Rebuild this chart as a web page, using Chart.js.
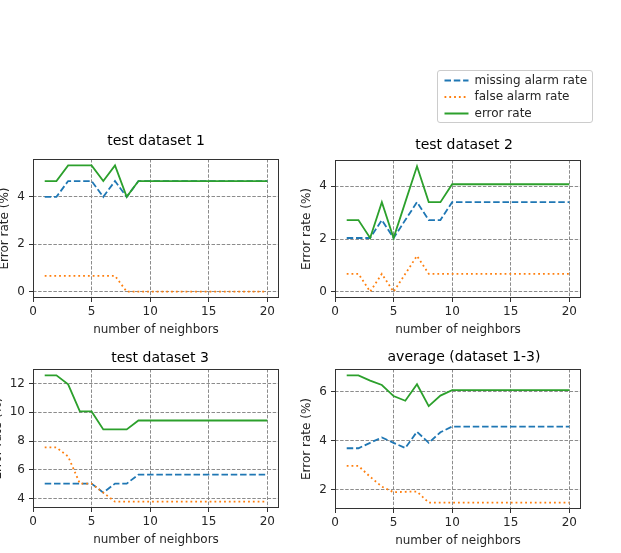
<!DOCTYPE html>
<html>
<head>
<meta charset="utf-8">
<title>error rate vs number of neighbors</title>
<script src="https://cdn.jsdelivr.net/npm/chart.js@4/dist/chart.umd.min.js"></script>
<style>
    html, body { margin: 0; padding: 0; background: #ffffff; }
    body { position: relative; width: 621px; height: 553px; overflow: hidden; }
    canvas { position: absolute; }
    #legend-box {
        position: absolute; left: 437px; top: 70px; width: 154px; height: 51px;
        border: 1px solid #cccccc; border-radius: 3px; background: rgba(255, 255, 255, 0.8);
    }
</style>
</head>
<body>
<div id="legend-box"></div>
<canvas id="plot-1"></canvas>
<canvas id="plot-2"></canvas>
<canvas id="plot-3"></canvas>
<canvas id="plot-4"></canvas>
<canvas id="legend"></canvas>
<script>
// x axis: number of neighbors, same for every panel
const neighbors = [1, 2, 3, 4, 5, 6, 7, 8, 9, 10, 11, 12, 13, 14, 15, 16, 17, 18, 19, 20];
const xTicks = [0, 5, 10, 15, 20];
const seriesNames = ["missing alarm rate", "false alarm rate", "error rate"];

// test dataset 1 (%)
const missing1 = [4.00, 4.00, 4.67, 4.67, 4.67, 4.00, 4.67, 4.00, 4.67, 4.67, 4.67, 4.67, 4.67, 4.67, 4.67, 4.67, 4.67, 4.67, 4.67, 4.67];
const falseAlarm1 = [0.67, 0.67, 0.67, 0.67, 0.67, 0.67, 0.67, 0, 0, 0, 0, 0, 0, 0, 0, 0, 0, 0, 0, 0];
const error1 = [4.67, 4.67, 5.33, 5.33, 5.33, 4.67, 5.33, 4.00, 4.67, 4.67, 4.67, 4.67, 4.67, 4.67, 4.67, 4.67, 4.67, 4.67, 4.67, 4.67];
const yTicks1 = [0, 2, 4];

// test dataset 2 (%)
const missing2 = [2.04, 2.04, 2.04, 2.72, 2.04, 2.72, 3.40, 2.72, 2.72, 3.40, 3.40, 3.40, 3.40, 3.40, 3.40, 3.40, 3.40, 3.40, 3.40, 3.40];
const falseAlarm2 = [0.68, 0.68, 0, 0.68, 0, 0.68, 1.36, 0.68, 0.68, 0.68, 0.68, 0.68, 0.68, 0.68, 0.68, 0.68, 0.68, 0.68, 0.68, 0.68];
const error2 = [2.72, 2.72, 2.04, 3.40, 2.04, 3.40, 4.76, 3.40, 3.40, 4.08, 4.08, 4.08, 4.08, 4.08, 4.08, 4.08, 4.08, 4.08, 4.08, 4.08];
const yTicks2 = [0, 2, 4];

// test dataset 3 (%)
const missing3 = [5.03, 5.03, 5.03, 5.03, 5.03, 4.40, 5.03, 5.03, 5.66, 5.66, 5.66, 5.66, 5.66, 5.66, 5.66, 5.66, 5.66, 5.66, 5.66, 5.66];
const falseAlarm3 = [7.55, 7.55, 6.92, 5.03, 5.03, 4.40, 3.77, 3.77, 3.77, 3.77, 3.77, 3.77, 3.77, 3.77, 3.77, 3.77, 3.77, 3.77, 3.77, 3.77];
const error3 = [12.58, 12.58, 11.95, 10.06, 10.06, 8.81, 8.81, 8.81, 9.43, 9.43, 9.43, 9.43, 9.43, 9.43, 9.43, 9.43, 9.43, 9.43, 9.43, 9.43];
const yTicks3 = [4, 6, 8, 10, 12];

// average over dataset 1-3 (%)
const missing4 = [3.69, 3.69, 3.91, 4.13, 3.91, 3.70, 4.36, 3.91, 4.34, 4.57, 4.57, 4.57, 4.57, 4.57, 4.57, 4.57, 4.57, 4.57, 4.57, 4.57];
const falseAlarm4 = [2.97, 2.97, 2.53, 2.13, 1.90, 1.92, 1.93, 1.48, 1.48, 1.48, 1.48, 1.48, 1.48, 1.48, 1.48, 1.48, 1.48, 1.48, 1.48, 1.48];
const error4 = [6.65, 6.65, 6.44, 6.26, 5.81, 5.62, 6.29, 5.40, 5.83, 6.05, 6.05, 6.05, 6.05, 6.05, 6.05, 6.05, 6.05, 6.05, 6.05, 6.05];
const yTicks4 = [2, 4, 6];

const COLORS = ["#1f77b4", "#ff7f0e", "#2ca02c"];
const DASHES = [[6.5, 2.8], [1.8, 3], []];
const FONT = "'DejaVu Sans', 'Liberation Sans', sans-serif";
const X_AXIS_HEIGHT = 39;   // ticks + tick labels + "number of neighbors"
const TITLE_LINE = 16.8;    // 14px title * 1.2 line height

Chart.defaults.font.family = FONT;
Chart.defaults.color = "#262626";

// draws the four spines round the plot area (chart.js only draws the axis side)
const framePlugin = {
    id: "frame",
    afterDraw(chart) {
        let a = chart.chartArea;
        let ctx = chart.ctx;
        ctx.save();
        ctx.strokeStyle = "#333333";
        ctx.lineWidth = 1;
        ctx.setLineDash([]);
        ctx.strokeRect(Math.round(a.left) + 0.5, Math.round(a.top) + 0.5,
            Math.round(a.right - a.left) - 1, Math.round(a.bottom - a.top) - 1);
        ctx.restore();
    }
};

// nudges the title sideways a little, the source figure is not exactly centred
const titleShiftPlugin = {
    id: "titleShift",
    afterLayout(chart, args, opts) {
        if (chart.titleBlock && opts.shift) {
            chart.titleBlock.left += opts.shift;
            chart.titleBlock.right += opts.shift;
        }
    }
};

function toPoints(values) {
    return neighbors.map((k, i) => ({ x: k, y: values[i] }));
}

function build_datasets(missing, falseAlarm, error) {
    let series = [missing, falseAlarm, error];
    return series.map((vals, i) => ({
        label: seriesNames[i],
        data: toPoints(vals),
        borderColor: COLORS[i],
        backgroundColor: COLORS[i],
        borderWidth: 1.8,
        borderDash: DASHES[i],
        borderCapStyle: "butt",
        pointRadius: 0,
        tension: 0,
        fill: false,
        order: 3 - i // error rate on top, like matplotlib plotting order
    }));
}

/**
 * One subplot on its own canvas.
 * box: l/t/r/b of the plot area in page pixels, yw = width kept for the y axis,
 * ct = top of the canvas (the title sits between ct and t), shift = title nudge
 */
function make_panel(id, title, missing, falseAlarm, error, yTicks, yMin, yMax, box) {
    let cv = document.getElementById(id);
    let left = box.l - box.yw;
    cv.style.left = left + "px";
    cv.style.top = box.ct + "px";
    cv.width = box.r + 6 - left;
    cv.height = box.b + X_AXIS_HEIGHT - box.ct;

    let titlePad = box.t - box.ct - TITLE_LINE;

    return new Chart(cv, {
        type: "line",
        data: { datasets: build_datasets(missing, falseAlarm, error) },
        plugins: [framePlugin, titleShiftPlugin],
        options: {
            responsive: false,
            animation: false,
            devicePixelRatio: 1,
            layout: { padding: { left: 0, right: 6, top: 0, bottom: 0 } },
            scales: {
                x: {
                    type: "linear",
                    min: 0,
                    max: 21,
                    afterBuildTicks: (s) => { s.ticks = xTicks.map(v => ({ value: v })); },
                    afterFit: (s) => { s.height = X_AXIS_HEIGHT; },
                    ticks: { font: { size: 12 }, color: "#262626", padding: 3, maxRotation: 0, autoSkip: false },
                    grid: { color: "#8c8c8c", lineWidth: 1, tickLength: 4, tickColor: "#333333", tickWidth: 1, tickBorderDash: [] },
                    border: { display: false, dash: [3.5, 1.6] },
                    title: { display: true, text: "number of neighbors", font: { size: 12 }, color: "#262626", padding: 0 }
                },
                y: {
                    type: "linear",
                    min: yMin,
                    max: yMax,
                    afterBuildTicks: (s) => { s.ticks = yTicks.map(v => ({ value: v })); },
                    afterFit: (s) => { s.width = box.yw; },
                    ticks: { font: { size: 12 }, color: "#262626", padding: 4, autoSkip: false },
                    grid: { color: "#8c8c8c", lineWidth: 1, tickLength: 4, tickColor: "#333333", tickWidth: 1, tickBorderDash: [] },
                    border: { display: false, dash: [3.5, 1.6] },
                    title: { display: true, text: "Error rate (%)", font: { size: 12 }, color: "#262626", padding: 0 }
                }
            },
            plugins: {
                legend: { display: false },
                tooltip: { enabled: false },
                titleShift: { shift: box.shift },
                title: {
                    display: true,
                    fullSize: false, // centre over the plot area, not the canvas
                    text: title,
                    font: { size: 14, weight: "normal" },
                    color: "#000000",
                    padding: { top: 0, bottom: titlePad }
                }
            }
        }
    });
}

// the shared legend, drawn by chart.js on a small canvas of its own
function make_legend() {
    let cv = document.getElementById("legend");
    cv.style.left = "440px";
    cv.style.top = "70px";
    cv.width = 150;
    cv.height = 150;
    let datasets = build_datasets([], [], []);
    datasets.forEach(d => { delete d.order; });
    return new Chart(cv, {
        type: "line",
        data: { datasets: datasets },
        options: {
            responsive: false,
            animation: false,
            devicePixelRatio: 1,
            layout: { padding: 0 },
            scales: { x: { type: "linear", display: false }, y: { display: false } },
            plugins: {
                tooltip: { enabled: false },
                legend: {
                    display: true,
                    position: "top",
                    align: "start",
                    labels: {
                        font: { size: 12 },
                        color: "#262626",
                        usePointStyle: true,
                        pointStyleWidth: 24,
                        padding: 4.5,
                        // keep the dash pattern of each line in the legend sample
                        generateLabels: (chart) => {
                            let items = Chart.defaults.plugins.legend.labels.generateLabels(chart);
                            return items.map(item => Object.assign(item, {
                                pointStyle: "line",
                                lineDash: DASHES[item.datasetIndex],
                                lineWidth: 1.8,
                                strokeStyle: COLORS[item.datasetIndex]
                            }));
                        }
                    }
                }
            }
        }
    });
}

make_panel("plot-1", "test dataset 1", missing1, falseAlarm1, error1, yTicks1, -0.267, 5.6,
    { l: 33, t: 159, r: 279, b: 298, yw: 35, ct: 133, shift: 0 });
make_panel("plot-2", "test dataset 2", missing2, falseAlarm2, error2, yTicks2, -0.238, 5.0,
    { l: 335, t: 160, r: 581, b: 298, yw: 35, ct: 137, shift: 6 });
make_panel("plot-3", "test dataset 3", missing3, falseAlarm3, error3, yTicks3, 3.33, 13.02,
    { l: 33, t: 369, r: 279, b: 508, yw: 42, ct: 350, shift: 4 });
make_panel("plot-4", "average (dataset 1-3)", missing4, falseAlarm4, error4, yTicks4, 1.22, 6.91,
    { l: 335, t: 369, r: 581, b: 509, yw: 35, ct: 349, shift: 6 });
make_legend();
</script>
</body>
</html>
